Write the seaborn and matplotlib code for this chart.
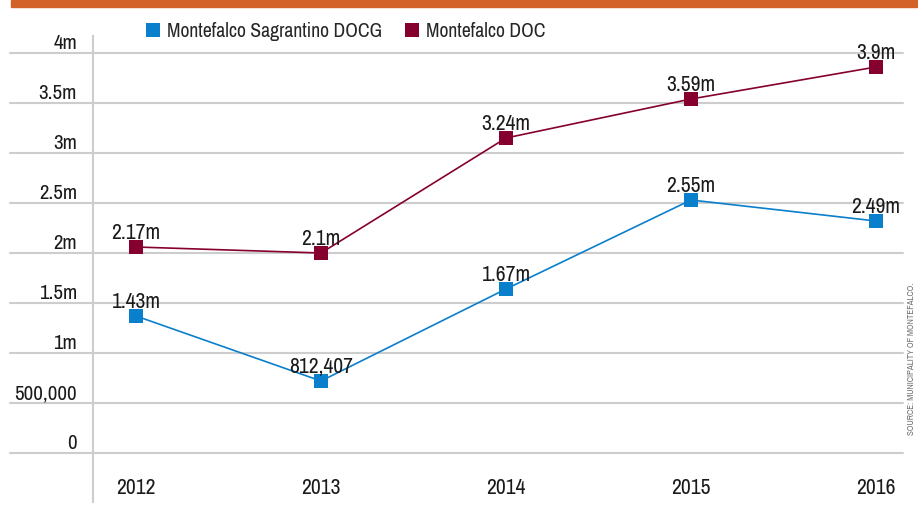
import matplotlib
matplotlib.use("Agg")
import matplotlib.pyplot as plt
from matplotlib.lines import Line2D
from matplotlib.patches import Rectangle
import seaborn as sns
import pandas as pd

# ---- data ----
years = [2012, 2013, 2014, 2015, 2016]
docg_values = [1.37, 0.72, 1.64, 2.53, 2.32]   # plotted positions (millions)
doc_values = [2.06, 2.00, 3.15, 3.54, 3.86]
docg_labels = ["1.43m", "812,407", "1.67m", "2.55m", "2.49m"]
doc_labels = ["2.17m", "2.1m", "3.24m", "3.59m", "3.9m"]
series_names = ["Montefalco Sagrantino DOCG", "Montefalco DOC"]
y_ticks = [0, 0.5, 1, 1.5, 2, 2.5, 3, 3.5, 4]
y_tick_labels = ["0", "500,000", "1m", "1.5m", "2m", "2.5m", "3m", "3.5m", "4m"]
source_text = "SOURCE: MUNICIPALITY OF MONTEFALCO."

colors = {"Montefalco Sagrantino DOCG": "#0a7fcb", "Montefalco DOC": "#86002f"}

sns.set_theme(style="white")
plt.rcParams["font.family"] = ["Archivo Narrow", "DejaVu Sans"]
plt.rcParams["font.stretch"] = "condensed"

df = pd.DataFrame({
    "year": years * 2,
    "value": docg_values + doc_values,
    "series": [series_names[0]] * 5 + [series_names[1]] * 5,
})

W, H = 918, 512
fig = plt.figure(figsize=(W / 100, H / 100), dpi=100)
fig.patch.set_facecolor("white")
ax = fig.add_axes([93 / W, 1 - 502 / H, 810 / W, (502 - 36) / H])
ax.set_facecolor("white")

sns.lineplot(data=df, x="year", y="value", hue="series", palette=colors,
             marker="s", markersize=9.5, markeredgewidth=0, linewidth=1.2,
             legend=False, ax=ax, zorder=3)

ax.set_xlim(2012 - 43 / 185, 2016 + 27 / 185)
ax.set_ylim(-0.49, 4.17)

for t in y_ticks:
    ax.axhline(t, xmin=-83 / 810, xmax=1, color="#cdcdcd", lw=1.5,
               clip_on=False, zorder=0)

for s in ["top", "right", "bottom"]:
    ax.spines[s].set_visible(False)
ax.spines["left"].set_color("#cdcdcd")
ax.spines["left"].set_linewidth(1.5)

fs = 15.5
ax.set_yticks(y_ticks)
ax.set_yticklabels(y_tick_labels, fontsize=15, color="#1a1a1a", va="bottom")
ax.tick_params(axis="y", length=0, pad=11.5)
ax.set_xticks(years)
ax.set_xticklabels([str(y) for y in years], fontsize=fs, color="#1a1a1a")
ax.tick_params(axis="x", length=0, pad=-17.5)
ax.set_xlabel("")
ax.set_ylabel("")

for x, v, lab in zip(years, docg_values, docg_labels):
    ax.annotate(lab, (x, v), xytext=(0, 5.8), textcoords="offset points",
                ha="center", va="baseline", fontsize=fs, color="#1a1a1a", zorder=4)
for x, v, lab in zip(years, doc_values, doc_labels):
    ax.annotate(lab, (x, v), xytext=(0, 5.8), textcoords="offset points",
                ha="center", va="baseline", fontsize=fs, color="#1a1a1a", zorder=4)

handles = [Line2D([], [], marker="s", linestyle="none", markersize=10.5,
                  markeredgewidth=0, color=colors[n]) for n in series_names]
fig.legend(handles, series_names, loc="upper left",
           bbox_to_anchor=(145 / W, 1 - 22 / H), ncol=2, frameon=False,
           fontsize=14.2, handlelength=0.8, handletextpad=0.3,
           columnspacing=1.15, borderpad=0, borderaxespad=0)

fig.patches.append(Rectangle((11 / W, 1 - 7 / H), (W - 11) / W, 7 / H,
                             transform=fig.transFigure, color="#d2622a",
                             zorder=5))

fig.text(912 / W, 1 - 359 / H, source_text, rotation=90, ha="center",
         va="center", fontsize=6.4, color="#6e6e6e")

fig.savefig("out.png", dpi=100)
